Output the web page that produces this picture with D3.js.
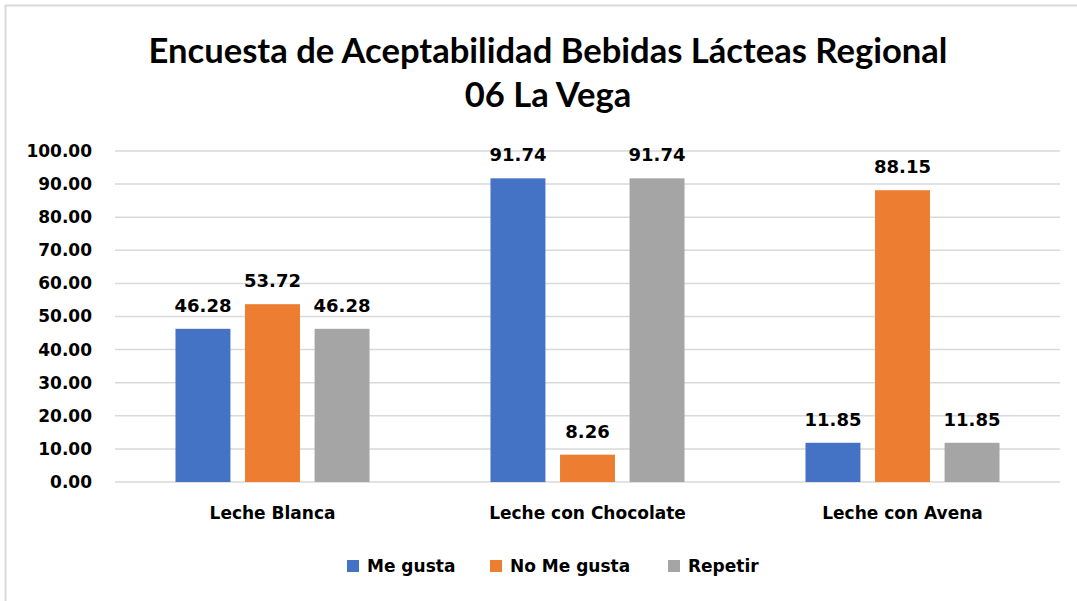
<!DOCTYPE html>
<html>
<head>
<meta charset="utf-8">
<script src="https://cdn.jsdelivr.net/npm/d3@7"></script>
<style>
  body { margin: 0; background: #fff; }
  svg { display: block; }
</style>
</head>
<body>
<svg id="chart"></svg>
<script>
// data
const categories = ['Leche Blanca', 'Leche con Chocolate', 'Leche con Avena'];
const seriesNames = ['Me gusta', 'No Me gusta', 'Repetir'];
const meGusta = [46.28, 91.74, 11.85];
const noMeGusta = [53.72, 8.26, 88.15];
const repetir = [46.28, 91.74, 11.85];
const yTicks = [0, 10, 20, 30, 40, 50, 60, 70, 80, 90, 100];
const titleLines = ['Encuesta de Aceptabilidad Bebidas Lácteas Regional', '06 La Vega'];

const colors = ['#4472C4', '#ED7D31', '#A5A5A5'];
const seriesValues = [meGusta, noMeGusta, repetir];

const w = 1077, h = 601;
const margin = { top: 151, right: 17, bottom: 119, left: 115 };
const labelFont = "'DejaVu Sans', Verdana, sans-serif";

const svg = d3.select('#chart')
  .attr('width', w)
  .attr('height', h);

// chart frame (cut off on the right and bottom, like the screenshot)
svg.append('rect')
  .attr('x', 5.5).attr('y', 5.5)
  .attr('width', w + 10).attr('height', h + 10)
  .attr('fill', '#fff')
  .attr('stroke', '#d9d9d9')
  .attr('stroke-width', 2);

// title
svg.append('text')
  .attr('x', 548)
  .attr('y', 63)
  .attr('text-anchor', 'middle')
  .style('font-family', "Lato, 'Open Sans', sans-serif")
  .style('font-weight', 'bold')
  .style('font-size', '34.6px')
  .style('fill', '#000')
  .selectAll('tspan')
  .data(titleLines)
  .join('tspan')
    .attr('x', 548)
    .attr('dy', (d, i) => i === 0 ? 0 : 44)
    .text(d => d);

const x0 = d3.scaleBand()
  .domain(categories)
  .range([margin.left, w - margin.right])
  .paddingInner(0.384)
  .paddingOuter(0.192);

const x1 = d3.scaleBand()
  .domain(seriesNames)
  .range([0, x0.bandwidth()])
  .paddingInner(0.21);

const y = d3.scaleLinear()
  .domain([0, 100])
  .range([h - margin.bottom, margin.top]);

// grid lines
svg.append('g')
  .selectAll('line')
  .data(yTicks)
  .join('line')
    .attr('x1', margin.left)
    .attr('x2', w - margin.right)
    .attr('y1', d => y(d))
    .attr('y2', d => y(d))
    .attr('stroke', '#d9d9d9')
    .attr('stroke-width', 1.5);

// y axis labels
const yAxis = d3.axisLeft(y)
  .tickValues(yTicks)
  .tickFormat(d3.format('.2f'))
  .tickSize(0)
  .tickPadding(23);
const yG = svg.append('g')
  .attr('transform', `translate(${margin.left},0)`)
  .call(yAxis);
yG.select('.domain').remove();
yG.selectAll('text')
  .style('font-family', labelFont)
  .style('font-weight', 'bold')
  .style('font-size', '17px')
  .style('fill', '#000');

// x axis labels
const xAxis = d3.axisBottom(x0).tickSize(0).tickPadding(25);
const xG = svg.append('g')
  .attr('transform', `translate(0,${h - margin.bottom})`)
  .call(xAxis);
xG.select('.domain').remove();
xG.selectAll('text')
  .style('font-family', labelFont)
  .style('font-weight', 'bold')
  .style('font-size', '17px')
  .style('fill', '#000');

// bars
const rows = categories.map((c, i) => ({
  category: c,
  values: seriesNames.map((s, j) => ({ series: s, value: seriesValues[j][i], color: colors[j] }))
}));

const groups = svg.append('g')
  .selectAll('g')
  .data(rows)
  .join('g')
    .attr('transform', d => `translate(${x0(d.category)},0)`);

groups.selectAll('rect')
  .data(d => d.values)
  .join('rect')
    .attr('x', d => x1(d.series))
    .attr('y', d => y(d.value))
    .attr('width', x1.bandwidth())
    .attr('height', d => y(0) - y(d.value))
    .attr('fill', d => d.color);

groups.selectAll('text')
  .data(d => d.values)
  .join('text')
    .attr('x', d => x1(d.series) + x1.bandwidth() / 2)
    .attr('y', d => y(d.value) - 17)
    .attr('text-anchor', 'middle')
    .style('font-family', labelFont)
    .style('font-weight', 'bold')
    .style('font-size', '18px')
    .style('fill', '#000')
    .text(d => d.value.toFixed(2));

// legend
const legendX = [347, 490, 668];
const legend = svg.append('g')
  .selectAll('g')
  .data(seriesNames)
  .join('g')
    .attr('transform', (d, i) => `translate(${legendX[i]},560)`);
legend.append('rect')
  .attr('width', 12).attr('height', 12)
  .attr('fill', (d, i) => colors[i]);
legend.append('text')
  .attr('x', 20)
  .attr('y', 12)
  .style('font-family', labelFont)
  .style('font-weight', 'bold')
  .style('font-size', '17px')
  .style('fill', '#000')
  .text(d => d);
</script>
</body>
</html>
